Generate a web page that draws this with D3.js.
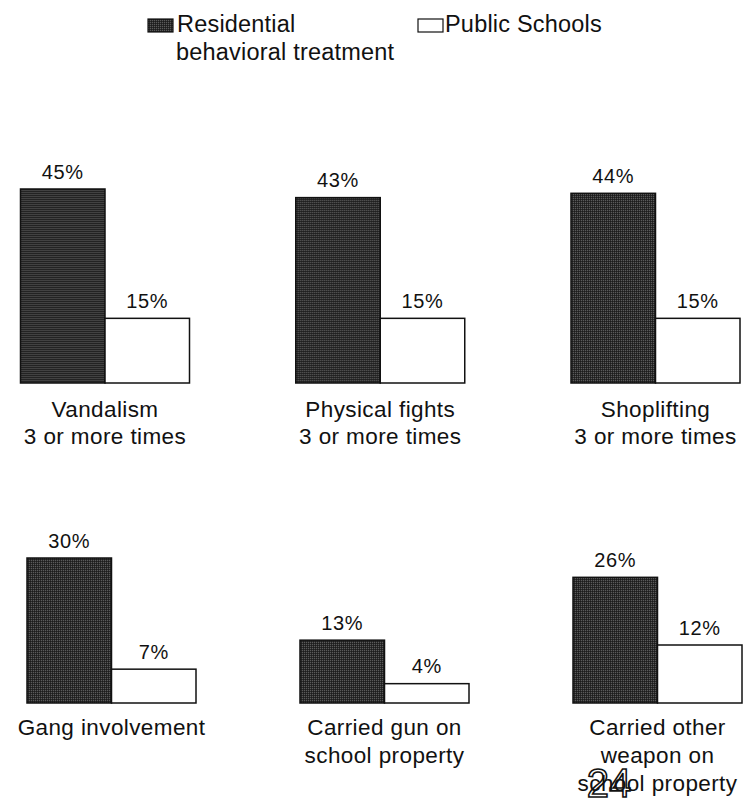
<!DOCTYPE html>
<html>
<head>
<meta charset="utf-8">
<script src="https://cdn.jsdelivr.net/npm/d3@7"></script>
<style>
  html, body { margin: 0; padding: 0; background: #fff; }
  svg { display: block; }
  text { font-family: "Liberation Sans", Arial, Helvetica, sans-serif; fill: #111; }
</style>
</head>
<body>
<div id="chart"></div>
<script>
// ---- data ----
const series = ["Residential behavioral treatment", "Public Schools"];
const row1Categories = [
  ["Vandalism", "3 or more times"],
  ["Physical fights", "3 or more times"],
  ["Shoplifting", "3 or more times"]
];
const row1Residential = [45, 43, 44];
const row1Public = [15, 15, 15];
const row2Categories = [
  ["Gang involvement"],
  ["Carried gun on", "school property"],
  ["Carried other", "weapon on", "school property"]
];
const row2Residential = [30, 13, 26];
const row2Public = [7, 4, 12];
const pageNumber = "24";

// ---- drawing ----
const W = 746, H = 800;
const svg = d3.select("#chart").append("svg").attr("width", W).attr("height", H);

// halftone-like pattern for the dark bars
const defs = svg.append("defs");
const pat = defs.append("pattern").attr("id", "halftone")
  .attr("patternUnits", "userSpaceOnUse").attr("width", 2).attr("height", 2);
pat.append("rect").attr("width", 2).attr("height", 2).attr("fill", "#2a2a2a");
pat.append("rect").attr("x", 0).attr("y", 0).attr("width", 1).attr("height", 1).attr("fill", "#5a5a5a");
pat.append("rect").attr("x", 1).attr("y", 1).attr("width", 1).attr("height", 1).attr("fill", "#1c1c1c");

const fills = {[series[0]]: "url(#halftone)", [series[1]]: "#ffffff"};

// legend
const legend = svg.append("g");
const legItems = [
  {name: series[0], lines: ["Residential", "behavioral treatment"], x: 148, tx: [177, 176]},
  {name: series[1], lines: ["Public Schools"], x: 418, tx: [445]}
];
legItems.forEach(it => {
  legend.append("rect").attr("x", it.x).attr("y", 19).attr("width", 25).attr("height", 13)
    .attr("fill", fills[it.name]).attr("stroke", "#111").attr("stroke-width", 1.2);
  it.lines.forEach((l, i) => {
    legend.append("text").attr("x", it.tx[i]).attr("y", 32 + i * 28)
      .attr("font-size", 23.5).attr("letter-spacing", 0.2).text(l);
  });
});

function drawRow(cats, resVals, pubVals, cfg) {
  const names = cats.map(c => c.join(" "));
  const xPanel = d3.scalePoint().domain(names).range(cfg.xRange);
  const xBar = d3.scaleBand().domain(series).range([0, cfg.groupWidth]).padding(0);
  const y = d3.scaleLinear().domain([0, cfg.maxVal]).range([cfg.base, cfg.top]);

  names.forEach((n, i) => {
    const g = svg.append("g").attr("transform", `translate(${xPanel(n)},0)`);
    const vals = [{s: series[0], v: resVals[i]}, {s: series[1], v: pubVals[i]}];
    g.selectAll("rect.bar").data(vals).enter().append("rect")
      .attr("class", "bar")
      .attr("x", d => xBar(d.s))
      .attr("y", d => y(d.v))
      .attr("width", xBar.bandwidth())
      .attr("height", d => y(0) - y(d.v))
      .attr("fill", d => fills[d.s])
      .attr("stroke", "#111").attr("stroke-width", 1.5);
    g.selectAll("text.val").data(vals).enter().append("text")
      .attr("class", "val")
      .attr("x", d => xBar(d.s) + xBar.bandwidth() / 2)
      .attr("y", d => y(d.v) - 10.5)
      .attr("text-anchor", "middle")
      .attr("font-size", 20).attr("letter-spacing", 0.6)
      .text(d => d.v + "%");
    cats[i].forEach((line, j) => {
      g.append("text")
        .attr("x", cfg.groupWidth / 2)
        .attr("y", cfg.labelY + j * cfg.lineH)
        .attr("text-anchor", "middle")
        .attr("font-size", 22.5).attr("letter-spacing", 0.4)
        .text(line);
    });
  });
}

drawRow(row1Categories, row1Residential, row1Public,
  {xRange: [20.5, 571], groupWidth: 169, maxVal: 45, base: 383, top: 189, labelY: 417, lineH: 26.5});
drawRow(row2Categories, row2Residential, row2Public,
  {xRange: [27, 573], groupWidth: 169, maxVal: 30, base: 703, top: 558, labelY: 735, lineH: 28});

// page number overlay (overlaps the last label, as in the source page)
svg.append("text").attr("x", 609).attr("y", 797).attr("text-anchor", "middle")
  .attr("font-family", "'DejaVu Serif', serif").attr("font-size", 40)
  .style("fill", "none").attr("stroke", "#111").attr("stroke-width", 1.6)
  .text(pageNumber);
</script>
</body>
</html>
